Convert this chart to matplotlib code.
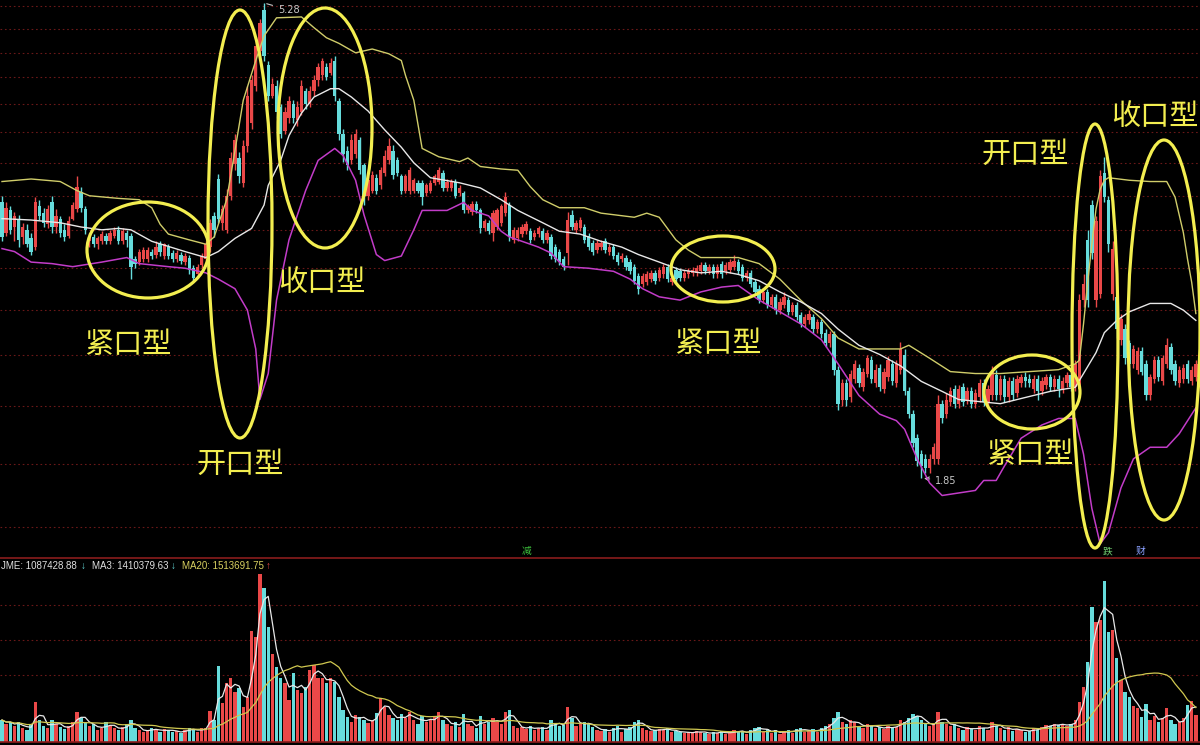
import numpy as np
import pandas as pd
import matplotlib
matplotlib.use('Agg')
import matplotlib.pyplot as plt
from matplotlib.patches import Ellipse

# ---- daily candles (price) ----
opens = [
    3.40, 3.18, 3.34, 3.22, 3.28, 3.15, 3.20, 3.14, 3.08, 3.37,
    3.32, 3.24, 3.40, 3.22, 3.28, 3.20, 3.16, 3.28, 3.35, 3.48,
    3.35, 3.12, 3.15, 3.10, 3.12, 3.16, 3.12, 3.16, 3.20, 3.12,
    3.18, 3.16, 3.00, 2.98, 3.00, 3.00, 3.05, 3.03, 3.10, 3.02,
    3.08, 3.04, 3.00, 3.03, 2.98, 3.01, 2.94, 2.90, 2.96, 3.00,
    3.08, 3.30, 3.58, 3.25, 3.20, 3.45, 3.70, 3.75, 3.55, 3.85,
    4.05, 4.40, 4.75, 5.20, 4.60, 4.30, 4.40, 4.20, 3.98, 4.10,
    4.22, 4.08, 4.15, 4.35, 4.22, 4.35, 4.45, 4.50, 4.58, 4.52,
    4.65, 4.25, 3.95, 3.81, 3.73, 3.78, 3.90, 3.69, 3.45, 3.49,
    3.59, 3.53, 3.63, 3.73, 3.81, 3.73, 3.60, 3.49, 3.49, 3.49,
    3.55, 3.55, 3.47, 3.49, 3.55, 3.56, 3.63, 3.51, 3.51, 3.56,
    3.47, 3.47, 3.34, 3.33, 3.39, 3.34, 3.21, 3.25, 3.18, 3.22,
    3.25, 3.32, 3.38, 3.13, 3.14, 3.17, 3.19, 3.19, 3.15, 3.17,
    3.19, 3.13, 3.15, 3.08, 3.05, 3.00, 3.04, 3.31, 3.20, 3.21,
    3.22, 3.16, 3.11, 3.06, 3.08, 3.12, 3.05, 3.08, 3.03, 3.00,
    3.01, 2.98, 2.95, 2.89, 2.84, 2.85, 2.87, 2.91, 2.88, 2.90,
    2.95, 2.85, 2.93, 2.92, 2.88, 2.90, 2.91, 2.91, 2.92, 2.96,
    2.92, 2.95, 2.90, 2.97, 2.92, 2.93, 2.95, 2.98, 2.95, 2.88,
    2.91, 2.85, 2.81, 2.74, 2.79, 2.71, 2.76, 2.68, 2.71, 2.74,
    2.67, 2.71, 2.65, 2.60, 2.62, 2.64, 2.57, 2.61, 2.55, 2.49,
    2.54, 2.35, 2.20, 2.28, 2.21, 2.30, 2.36, 2.26, 2.33, 2.40,
    2.28, 2.36, 2.25, 2.31, 2.38, 2.28, 2.35, 2.43, 2.24, 2.13,
    2.02, 1.95, 1.93, 1.89, 1.93, 1.93, 2.18, 2.13, 2.19, 2.25,
    2.18, 2.26, 2.20, 2.24, 2.18, 2.21, 2.28, 2.19, 2.22, 2.32,
    2.22, 2.30, 2.21, 2.29, 2.23, 2.28, 2.31, 2.30, 2.25, 2.30,
    2.24, 2.27, 2.31, 2.26, 2.30, 2.25, 2.28, 2.32, 2.26, 2.25,
    2.74, 3.13, 3.38, 2.74, 2.78, 3.63, 3.42, 2.78, 2.76, 2.51,
    2.57, 2.49, 2.38, 2.35, 2.45, 2.38, 2.22, 2.30, 2.40, 2.29,
    2.38, 2.47, 2.38, 2.28, 2.30, 2.38, 2.29, 2.31]
closes = [
    3.15, 3.36, 3.20, 3.30, 3.13, 3.22, 3.10, 3.05, 3.40, 3.30,
    3.25, 3.35, 3.22, 3.30, 3.18, 3.15, 3.26, 3.38, 3.52, 3.36,
    3.20, 3.16, 3.10, 3.14, 3.17, 3.12, 3.18, 3.20, 3.12, 3.19,
    3.13, 2.95, 2.97, 3.05, 3.06, 3.06, 3.02, 3.08, 3.05, 3.10,
    3.02, 3.00, 3.04, 2.99, 3.02, 2.93, 2.88, 2.95, 3.02, 3.10,
    3.25, 3.20, 3.28, 3.35, 3.45, 3.75, 3.90, 3.60, 3.85, 4.30,
    4.45, 4.80, 5.05, 4.70, 4.30, 4.42, 4.15, 3.95, 4.15, 4.25,
    4.10, 4.20, 4.40, 4.22, 4.35, 4.45, 4.58, 4.65, 4.48, 4.62,
    4.30, 3.95, 3.78, 3.69, 3.90, 3.95, 3.65, 3.45, 3.57, 3.61,
    3.49, 3.65, 3.77, 3.85, 3.61, 3.63, 3.49, 3.60, 3.65, 3.57,
    3.49, 3.44, 3.53, 3.55, 3.60, 3.65, 3.51, 3.56, 3.56, 3.45,
    3.51, 3.34, 3.37, 3.39, 3.34, 3.21, 3.26, 3.19, 3.32, 3.34,
    3.37, 3.44, 3.15, 3.20, 3.20, 3.22, 3.24, 3.13, 3.18, 3.21,
    3.13, 3.18, 3.02, 3.00, 2.98, 2.95, 3.27, 3.22, 3.25, 3.27,
    3.13, 3.08, 3.05, 3.11, 3.11, 3.06, 3.08, 3.02, 2.98, 3.02,
    2.95, 2.92, 2.86, 2.81, 2.89, 2.90, 2.91, 2.86, 2.93, 2.95,
    2.87, 2.88, 2.87, 2.88, 2.91, 2.92, 2.93, 2.94, 2.96, 2.92,
    2.95, 2.90, 2.95, 2.90, 2.96, 2.98, 2.99, 2.92, 2.88, 2.91,
    2.84, 2.79, 2.74, 2.79, 2.71, 2.76, 2.68, 2.73, 2.76, 2.67,
    2.71, 2.64, 2.60, 2.64, 2.66, 2.57, 2.61, 2.54, 2.49, 2.54,
    2.35, 2.18, 2.28, 2.20, 2.33, 2.38, 2.28, 2.34, 2.41, 2.30,
    2.35, 2.26, 2.34, 2.40, 2.29, 2.38, 2.46, 2.24, 2.13, 2.00,
    1.92, 1.90, 1.89, 1.93, 1.98, 2.18, 2.11, 2.20, 2.24, 2.18,
    2.25, 2.19, 2.24, 2.18, 2.23, 2.28, 2.19, 2.25, 2.34, 2.22,
    2.30, 2.21, 2.29, 2.22, 2.30, 2.31, 2.29, 2.28, 2.30, 2.24,
    2.29, 2.31, 2.26, 2.30, 2.25, 2.29, 2.32, 2.26, 2.38, 2.74,
    2.84, 2.74, 3.04, 3.26, 3.60, 3.44, 3.10, 3.07, 2.57, 2.63,
    2.41, 2.38, 2.46, 2.45, 2.34, 2.22, 2.31, 2.40, 2.31, 2.41,
    2.48, 2.35, 2.29, 2.35, 2.36, 2.30, 2.35, 2.38]
highs = [
    3.45, 3.40, 3.37, 3.33, 3.31, 3.25, 3.24, 3.18, 3.44, 3.42,
    3.36, 3.38, 3.45, 3.35, 3.30, 3.24, 3.30, 3.40, 3.60, 3.52,
    3.37, 3.18, 3.17, 3.16, 3.19, 3.18, 3.20, 3.22, 3.23, 3.21,
    3.20, 3.18, 3.02, 3.07, 3.08, 3.08, 3.07, 3.12, 3.12, 3.11,
    3.10, 3.06, 3.06, 3.05, 3.04, 3.03, 2.96, 2.97, 3.04, 3.12,
    3.28, 3.33, 3.62, 3.38, 3.50, 3.80, 3.95, 3.80, 3.90, 4.40,
    4.50, 4.90, 5.10, 5.28, 4.65, 4.47, 4.45, 4.22, 4.20, 4.30,
    4.26, 4.25, 4.45, 4.38, 4.40, 4.50, 4.62, 4.68, 4.62, 4.68,
    4.70, 4.28, 4.00, 3.85, 3.95, 4.00, 3.93, 3.71, 3.60, 3.64,
    3.62, 3.68, 3.82, 3.92, 3.86, 3.76, 3.62, 3.62, 3.68, 3.59,
    3.57, 3.57, 3.55, 3.57, 3.62, 3.68, 3.65, 3.58, 3.58, 3.58,
    3.53, 3.49, 3.39, 3.41, 3.41, 3.36, 3.28, 3.27, 3.34, 3.36,
    3.39, 3.48, 3.40, 3.22, 3.22, 3.24, 3.26, 3.21, 3.20, 3.23,
    3.21, 3.20, 3.17, 3.10, 3.07, 3.02, 3.33, 3.34, 3.27, 3.29,
    3.24, 3.18, 3.13, 3.13, 3.13, 3.14, 3.10, 3.10, 3.05, 3.04,
    3.03, 3.00, 2.97, 2.91, 2.91, 2.92, 2.93, 2.93, 2.95, 2.97,
    2.97, 2.90, 2.95, 2.94, 2.93, 2.94, 2.95, 2.96, 2.98, 2.98,
    2.97, 2.97, 2.97, 2.99, 2.98, 3.00, 3.03, 3.00, 2.97, 2.93,
    2.93, 2.87, 2.83, 2.81, 2.81, 2.78, 2.78, 2.75, 2.79, 2.76,
    2.73, 2.73, 2.67, 2.66, 2.68, 2.66, 2.63, 2.63, 2.57, 2.56,
    2.56, 2.37, 2.30, 2.30, 2.35, 2.40, 2.38, 2.36, 2.43, 2.42,
    2.38, 2.38, 2.36, 2.42, 2.40, 2.40, 2.50, 2.46, 2.26, 2.15,
    2.04, 1.97, 1.95, 1.95, 2.00, 2.22, 2.20, 2.23, 2.26, 2.27,
    2.27, 2.28, 2.26, 2.26, 2.25, 2.30, 2.30, 2.27, 2.37, 2.35,
    2.32, 2.32, 2.31, 2.31, 2.32, 2.33, 2.34, 2.33, 2.32, 2.32,
    2.31, 2.33, 2.33, 2.32, 2.32, 2.31, 2.34, 2.34, 2.40, 2.78,
    2.90, 3.20, 3.42, 3.30, 3.65, 3.76, 3.45, 3.12, 2.80, 2.66,
    2.60, 2.51, 2.48, 2.47, 2.47, 2.40, 2.33, 2.42, 2.42, 2.43,
    2.52, 2.49, 2.40, 2.37, 2.38, 2.40, 2.37, 2.40]
lows = [
    3.12, 3.16, 3.17, 3.12, 3.08, 3.10, 3.08, 3.03, 3.06, 3.27,
    3.22, 3.21, 3.18, 3.18, 3.15, 3.12, 3.14, 3.27, 3.33, 3.33,
    3.17, 3.08, 3.08, 3.07, 3.10, 3.10, 3.10, 3.14, 3.10, 3.10,
    3.08, 2.87, 2.94, 2.96, 2.98, 2.98, 3.00, 3.01, 3.02, 3.00,
    3.00, 2.98, 2.98, 2.97, 2.96, 2.90, 2.86, 2.88, 2.94, 2.98,
    3.05, 3.15, 3.25, 3.20, 3.18, 3.42, 3.65, 3.55, 3.52, 3.80,
    4.00, 4.35, 4.70, 4.65, 4.25, 4.28, 4.10, 3.92, 3.95, 4.05,
    4.05, 4.02, 4.12, 4.18, 4.20, 4.30, 4.40, 4.45, 4.45, 4.50,
    4.25, 3.90, 3.72, 3.65, 3.70, 3.75, 3.62, 3.38, 3.42, 3.47,
    3.46, 3.50, 3.60, 3.70, 3.58, 3.60, 3.46, 3.47, 3.46, 3.47,
    3.47, 3.38, 3.45, 3.47, 3.53, 3.54, 3.49, 3.49, 3.49, 3.43,
    3.45, 3.32, 3.32, 3.31, 3.32, 3.18, 3.19, 3.17, 3.12, 3.20,
    3.23, 3.30, 3.12, 3.11, 3.12, 3.15, 3.17, 3.11, 3.13, 3.15,
    3.11, 3.11, 3.00, 2.98, 2.96, 2.93, 2.96, 3.20, 3.18, 3.19,
    3.11, 3.06, 3.03, 3.04, 3.06, 3.04, 3.03, 3.00, 2.96, 2.98,
    2.93, 2.90, 2.84, 2.78, 2.82, 2.83, 2.85, 2.84, 2.86, 2.88,
    2.85, 2.83, 2.85, 2.86, 2.86, 2.88, 2.89, 2.89, 2.90, 2.90,
    2.90, 2.88, 2.88, 2.88, 2.90, 2.91, 2.93, 2.90, 2.86, 2.86,
    2.82, 2.77, 2.72, 2.72, 2.69, 2.69, 2.66, 2.66, 2.69, 2.65,
    2.65, 2.62, 2.58, 2.58, 2.60, 2.55, 2.55, 2.52, 2.47, 2.47,
    2.32, 2.15, 2.17, 2.17, 2.19, 2.28, 2.26, 2.24, 2.31, 2.28,
    2.26, 2.24, 2.23, 2.29, 2.27, 2.26, 2.33, 2.22, 2.11, 1.98,
    1.90, 1.85, 1.87, 1.87, 1.91, 1.91, 2.09, 2.11, 2.17, 2.16,
    2.16, 2.17, 2.18, 2.16, 2.16, 2.19, 2.17, 2.17, 2.20, 2.20,
    2.20, 2.19, 2.19, 2.20, 2.21, 2.26, 2.26, 2.26, 2.23, 2.20,
    2.22, 2.25, 2.24, 2.24, 2.21, 2.23, 2.26, 2.24, 2.24, 2.23,
    2.70, 2.70, 3.00, 2.70, 2.75, 3.40, 3.05, 2.74, 2.52, 2.48,
    2.38, 2.35, 2.36, 2.33, 2.32, 2.20, 2.20, 2.28, 2.29, 2.27,
    2.36, 2.33, 2.27, 2.26, 2.28, 2.28, 2.27, 2.29]

# volume, in units of 10k shares
volume = [
    88, 72, 80, 64, 80, 56, 48, 72, 160, 88,
    64, 56, 88, 72, 60, 52, 64, 80, 120, 96,
    80, 64, 72, 48, 56, 80, 64, 56, 48, 60,
    72, 88, 56, 48, 40, 48, 56, 48, 40, 52,
    48, 40, 44, 36, 48, 56, 48, 40, 56, 56,
    124, 88, 304, 156, 236, 256, 200, 216, 140, 180,
    444, 420, 672, 616, 460, 352, 300, 256, 236, 168,
    276, 208, 196, 220, 288, 308, 256, 256, 236, 256,
    240, 180, 128, 100, 80, 108, 100, 88, 76, 88,
    116, 176, 140, 108, 96, 88, 112, 96, 120, 88,
    72, 104, 80, 88, 100, 120, 88, 72, 64, 80,
    60, 112, 72, 64, 56, 104, 72, 80, 96, 80,
    72, 120, 128, 64, 56, 60, 52, 64, 48, 56,
    60, 48, 88, 72, 64, 68, 140, 96, 64, 72,
    80, 72, 60, 48, 44, 52, 40, 56, 64, 40,
    52, 60, 80, 88, 56, 48, 44, 48, 52, 48,
    56, 40, 44, 40, 36, 40, 36, 44, 40, 36,
    32, 40, 36, 44, 32, 36, 48, 40, 44, 32,
    48, 56, 60, 40, 52, 36, 48, 32, 40, 48,
    36, 52, 56, 40, 44, 52, 40, 56, 64, 72,
    96, 120, 80, 72, 88, 80, 64, 56, 72, 64,
    56, 60, 52, 64, 56, 60, 88, 80, 96, 112,
    104, 88, 72, 64, 72, 120, 80, 72, 64, 72,
    56, 48, 60, 52, 48, 64, 56, 48, 80, 64,
    56, 48, 60, 44, 52, 48, 40, 44, 56, 48,
    60, 68, 64, 72, 68, 72, 64, 72, 88, 160,
    220, 320, 540, 480, 488, 644, 440, 448, 336, 248,
    200, 180, 144, 136, 100, 152, 88, 104, 80, 96,
    136, 88, 72, 80, 96, 148, 164, 108.74]

# Bollinger band lines (candle index, price)
upper_idx = [0, 7, 14, 18, 21, 28, 33, 36, 38, 40, 45, 49, 51, 54, 56, 58, 61, 63, 66, 72,
             75, 78, 81, 85, 89, 93, 96, 97, 99, 101, 105, 110, 112, 115, 120, 124, 127, 130, 134, 140,
             144, 152, 155, 158, 162, 165, 168, 173, 177, 182, 187, 192, 197, 201, 206, 211, 216, 218, 223, 228,
             234, 240, 247, 254, 258, 259, 260, 261, 262, 263, 264, 265, 266, 271, 276, 280, 282, 284, 285, 286,
             287]
upper_val = [3.56, 3.58, 3.56, 3.49, 3.45, 3.43, 3.42, 3.36, 3.24, 3.17, 3.13, 3.10, 3.15, 3.42, 3.81, 4.26, 4.65, 4.91, 5.11, 5.12,
             5.00, 4.89, 4.83, 4.73, 4.77, 4.72, 4.65, 4.50, 4.26, 3.83, 3.76, 3.72, 3.75, 3.68, 3.66, 3.65, 3.52, 3.42, 3.36, 3.36,
             3.32, 3.29, 3.32, 3.29, 3.13, 3.06, 3.01, 3.01, 3.01, 2.97, 2.87, 2.74, 2.63, 2.52, 2.46, 2.46, 2.46, 2.48, 2.41, 2.34,
             2.33, 2.33, 2.34, 2.35, 2.38, 2.40, 2.60, 2.85, 3.10, 3.35, 3.50, 3.57, 3.59, 3.57, 3.56, 3.56, 3.44, 3.18, 3.00, 2.85,
             2.66]
mid_idx = [0, 7, 14, 19, 24, 28, 31, 36, 44, 49, 52, 56, 60, 63, 64, 67, 69, 72, 75, 79,
           81, 84, 88, 92, 96, 99, 103, 110, 115, 120, 124, 130, 134, 139, 144, 149, 153, 158, 163, 168,
           173, 177, 182, 187, 192, 197, 201, 206, 211, 216, 221, 226, 230, 235, 240, 246, 252, 258, 260, 263,
           265, 268, 271, 276, 281, 284, 287]
mid_val = [3.28, 3.27, 3.25, 3.22, 3.20, 3.21, 3.20, 3.12, 3.05, 3.01, 3.05, 3.14, 3.21, 3.38, 3.53, 3.73, 3.94, 4.14, 4.29, 4.37,
           4.37, 4.29, 4.16, 3.99, 3.84, 3.71, 3.59, 3.55, 3.51, 3.42, 3.34, 3.25, 3.19, 3.17, 3.12, 3.08, 3.03, 2.98, 2.93, 2.91,
           2.92, 2.90, 2.86, 2.79, 2.73, 2.66, 2.57, 2.48, 2.43, 2.37, 2.29, 2.24, 2.20, 2.19, 2.18, 2.21, 2.24, 2.26, 2.33, 2.44,
           2.55, 2.62, 2.67, 2.72, 2.72, 2.68, 2.62]
lower_idx = [0, 3, 7, 12, 17, 24, 30, 33, 40, 44, 49, 52, 56, 59, 61, 62, 64, 66, 69, 73,
             76, 80, 82, 85, 87, 90, 92, 96, 99, 101, 107, 111, 113, 117, 120, 122, 126, 129, 132, 135,
             141, 147, 151, 154, 158, 163, 168, 173, 177, 182, 187, 192, 197, 201, 206, 211, 215, 217, 220, 223,
             226, 230, 234, 236, 239, 241, 245, 250, 254, 258, 260, 262, 264, 266, 269, 272, 276, 280, 283, 287]
lower_val = [3.07, 3.05, 2.98, 2.97, 2.95, 2.98, 3.01, 2.97, 2.95, 2.94, 2.91, 2.87, 2.81, 2.68, 2.46, 2.20, 2.33, 2.74, 3.13, 3.49,
             3.73, 3.83, 3.77, 3.57, 3.31, 3.03, 2.99, 3.02, 3.20, 3.34, 3.34, 3.40, 3.34, 3.30, 3.19, 3.15, 3.11, 3.08, 3.04, 2.95,
             2.94, 2.92, 2.87, 2.81, 2.76, 2.74, 2.79, 2.82, 2.83, 2.74, 2.67, 2.60, 2.51, 2.38, 2.22, 2.13, 2.10, 2.06, 1.93, 1.83,
             1.78, 1.79, 1.80, 1.84, 1.84, 1.90, 2.02, 2.08, 2.11, 2.11, 1.95, 1.73, 1.60, 1.64, 1.81, 1.93, 1.98, 1.98, 2.04, 2.16]

# horizontal guide levels of the software
price_grid = [5.25, 4.99, 4.73, 4.48, 4.22, 3.97, 3.71, 3.45, 3.20, 2.94, 2.68, 2.43, 2.17, 1.91, 1.66]
vol_grid = [548, 408, 268]

# annotations: (label, center x px, center y px)
shape_labels = [('紧口型', 128, 345), ('开口型', 240, 465), ('收口型', 322, 283),
                ('紧口型', 718, 344), ('紧口型', 1030, 455), ('开口型', 1025, 155),
                ('收口型', 1155, 117)]
# ellipses: (center x, center y, width, height) in px
shape_rings = [(148, 250, 122, 96), (240, 224, 64, 428), (325, 128, 94, 240),
               (723, 269, 104, 66), (1032, 392, 96, 74), (1095, 336, 46, 424),
               (1164, 330, 72, 380)]
signals = [('减', 527, '#3cc03c'), ('跌', 1108, '#70d070'), ('财', 1140, '#8aa0ff')]

RED = '#ea4848'
CYAN = '#66dcdc'
YEL = '#f3ee50'
W, H = 1200, 745

o = np.array(opens)
c = np.array(closes)
hi = np.array(highs)
lo = np.array(lows)
v = np.array(volume)
x = np.arange(len(c))
colors = np.where(c >= o, RED, CYAN)

fig = plt.figure(figsize=(W / 100, H / 100), dpi=100, facecolor='black')

# price panel
ax = fig.add_axes([0, 1 - 557 / H, 1, 557 / H])
ax.set_facecolor('black')
ax.set_yscale('log')
ax.set_ylim(1.554, 5.315)
ax.set_xlim(-0.48, 288.0)
for g in price_grid:
    ax.axhline(g, color='#6a1818', lw=0.8, ls=(0, (1.5, 2.5)), zorder=0)
ax.vlines(x, lo, hi, colors=colors, lw=1, zorder=2)
body = np.maximum(np.abs(c - o), 0.006)
ax.bar(x, body, bottom=np.minimum(o, c), width=0.8, color=colors, zorder=3)
ax.plot(upper_idx, upper_val, color='#d0cd6a', lw=1, zorder=4)
ax.plot(mid_idx, mid_val, color='#e8e8e8', lw=1, zorder=4)
ax.plot(lower_idx, lower_val, color='#c23cc8', lw=1.1, zorder=4)
ax.annotate('5.28', xy=(63, 5.28), xytext=(10, -5), textcoords='offset points',
            color='#c8c8c8', fontsize=7, va='center', family='DejaVu Sans',
            arrowprops=dict(arrowstyle='-', color='#c8c8c8', lw=0.8))
ax.annotate('1.85', xy=(221, 1.85), xytext=(10, -2), textcoords='offset points',
            color='#c8c8c8', fontsize=7, va='center', family='DejaVu Sans',
            arrowprops=dict(arrowstyle='->', color='#c8c8c8', lw=0.8))
ax.set_xticks([])
ax.set_yticks([])
ax.minorticks_off()
for s in ax.spines.values():
    s.set_visible(False)

# volume panel
axv = fig.add_axes([0, 1 - 742 / H, 1, 184 / H])
axv.set_facecolor('black')
axv.set_xlim(-0.48, 288.0)
axv.set_ylim(0, 736)
for g in vol_grid:
    axv.axhline(g, color='#6a1818', lw=0.8, ls=(0, (1.5, 2.5)), zorder=0)
axv.bar(x, v, width=0.8, color=colors, zorder=2)
vs = pd.Series(v)
axv.plot(x, vs.rolling(3, min_periods=1).mean(), color='#e8e8e8', lw=0.9, zorder=3)
axv.plot(x, vs.rolling(20, min_periods=1).mean(), color='#d0c850', lw=0.9, zorder=3)
axv.set_xticks([])
axv.set_yticks([])
for k, s in axv.spines.items():
    s.set_visible(k in ('top', 'bottom'))
    s.set_color('#8a1c1c')
    s.set_linewidth(1.2)

# overlay for hand-drawn marks and labels (pixel space)
ov = fig.add_axes([0, 0, 1, 1])
ov.set_xlim(0, W)
ov.set_ylim(H, 0)
ov.axis('off')
ov.patch.set_alpha(0)
for cx, cy, w, h in shape_rings:
    ov.add_patch(Ellipse((cx, cy), w, h, fill=False, ec=YEL, lw=2.3))
for txt, tx, ty in shape_labels:
    ov.text(tx, ty, txt, color=YEL, fontsize=21, ha='center', va='center',
            family=['Noto Sans CJK SC', 'DejaVu Sans'])
for txt, tx, col in signals:
    ov.text(tx, 551, txt, color=col, fontsize=7, ha='center', va='center',
            family=['Noto Sans CJK SC', 'DejaVu Sans'])

lbl = dict(fontsize=7, va='center', family=['Liberation Sans', 'DejaVu Sans'])
ov.text(1, 566, 'JME: 1087428.88', color='#e0e0e0', ha='left', **lbl)
ov.text(81, 566, '↓', color=CYAN, ha='left', **lbl)
ov.text(92, 566, 'MA3: 1410379.63', color='#e0e0e0', ha='left', **lbl)
ov.text(171, 566, '↓', color=CYAN, ha='left', **lbl)
ov.text(182, 566, 'MA20: 1513691.75', color='#d8d060', ha='left', **lbl)
ov.text(266, 566, '↑', color=RED, ha='left', **lbl)

fig.savefig('out.png', dpi=100, facecolor='black')
